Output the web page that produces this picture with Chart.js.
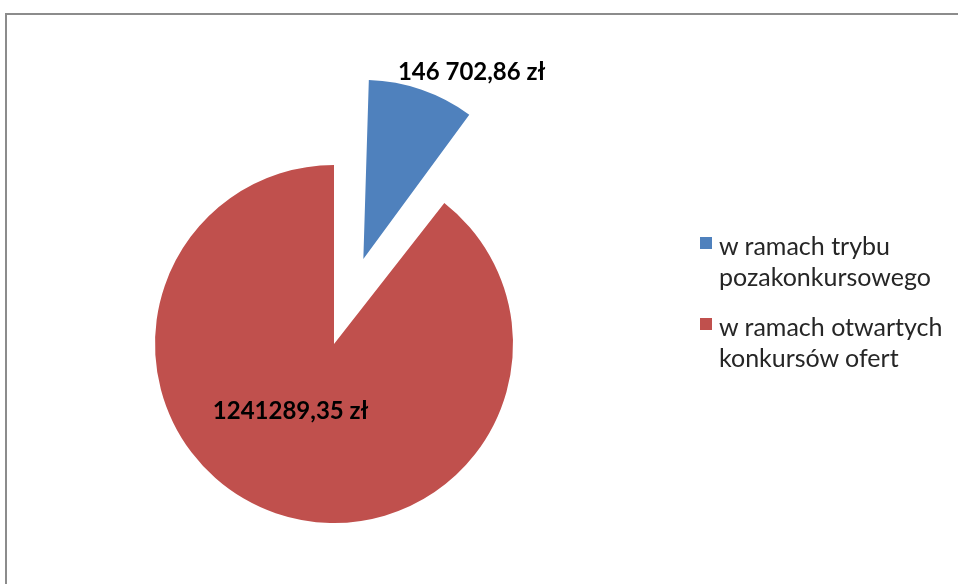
<!DOCTYPE html>
<html>
<head>
<meta charset="utf-8">
<script src="https://cdn.jsdelivr.net/npm/chart.js@4.4.0/dist/chart.umd.min.js"></script>
<style>
  body { margin: 0; background: #fff; }
  #wrap { position: relative; width: 958px; height: 584px; overflow: hidden; }
  #frame { position: absolute; left: 5px; top: 13px; width: 1000px; height: 700px;
           border-top: 2px solid #8c8c8c; border-left: 2px solid #8c8c8c; }
  #box { position: absolute; left: -100px; top: -100px; width: 1158px; height: 884px; }
  .legend { position: absolute; left: 700px; font-family: Lato, sans-serif; font-size: 25px;
            color: #262626; line-height: 31px; }
  .legend span.sw { position: absolute; left: 0; top: 7px; width: 12px; height: 12px; }
  .legend div.txt { margin-left: 19px; }
</style>
</head>
<body>
<div id="wrap">
  <div id="frame"></div>
  <div id="box"><canvas id="myChart"></canvas></div>
  <div id="legend"></div>
</div>
<script>
var labels = ['w ramach trybu pozakonkursowego', 'w ramach otwartych konkursów ofert'];
var legendLines = [['w ramach trybu', 'pozakonkursowego'], ['w ramach otwartych', 'konkursów ofert']];
var values = [146702.86, 1241289.35];
var valueLabels = ['146 702,86 zł', '1241289,35 zł'];
var colors = ['#4F81BD', '#C0504D'];
var explode = [90, 0]; // px the slice is pulled out

// html legend
var legendTops = [230, 311];
var lg = document.getElementById('legend');
legendLines.forEach(function (lines, i) {
    var d = document.createElement('div');
    d.className = 'legend';
    d.style.top = legendTops[i] + 'px';
    d.innerHTML = '<span class="sw" style="background:' + colors[i] + '"></span><div class="txt">' +
        lines.join('<br>') + '</div>';
    lg.appendChild(d);
});

// chart.js also grows a pulled-out arc (offset * (1 - sin(circumference))), undo that
var keepRadiusPlugin = {
    id: 'keepRadius',
    afterDatasetUpdate: function (chart, args) {
        var meta = chart.getDatasetMeta(args.index);
        meta.data.forEach(function (arc, i) {
            var fix = 1 - Math.sin(Math.min(Math.PI, arc.circumference || 0));
            arc.labelRadius = arc.outerRadius;
            arc.outerRadius = arc.outerRadius - explode[i] * fix;
        });
    }
};

var valueLabelPlugin = {
    id: 'valueLabels',
    afterDatasetsDraw: function (chart) {
        var ctx = chart.ctx;
        var meta = chart.getDatasetMeta(0);
        ctx.save();
        ctx.font = 'bold 24px Lato, sans-serif';
        ctx.fillStyle = '#000';
        ctx.textAlign = 'center';
        ctx.textBaseline = 'middle';
        meta.data.forEach(function (arc, i) {
            var mid = (arc.startAngle + arc.endAngle) / 2;
            var off = explode[i];
            var r = arc.labelRadius;
            var cx = arc.x + Math.cos(mid) * off;
            var cy = arc.y + Math.sin(mid) * off;
            var x, y;
            if (i === 0) {
                x = cx + Math.cos(mid) * r + 50;
                y = cy + Math.sin(mid) * r - 17;
            } else {
                x = cx + Math.cos(mid) * r * 0.4 - 20;
                y = cy + Math.sin(mid) * r * 0.4;
            }
            ctx.fillText(valueLabels[i], x, y);
        });
        ctx.restore();
    }
};

var ctx = document.getElementById('myChart').getContext('2d');
var myChart = new Chart(ctx, {
    type: 'pie',
    data: {
        labels: labels,
        datasets: [{
            data: values,
            backgroundColor: colors,
            borderWidth: 0,
            // chart.js moves arcs out by offset/4
            offset: explode.map(function (v) { return v * 4; })
        }]
    },
    options: {
        responsive: true,
        maintainAspectRatio: false,
        animation: false,
        layout: {
            padding: { left: 75, top: 85, right: 365, bottom: 81 }
        },
        plugins: {
            legend: { display: false },
            tooltip: { enabled: false }
        }
    },
    plugins: [keepRadiusPlugin, valueLabelPlugin]
});
</script>
</body>
</html>
